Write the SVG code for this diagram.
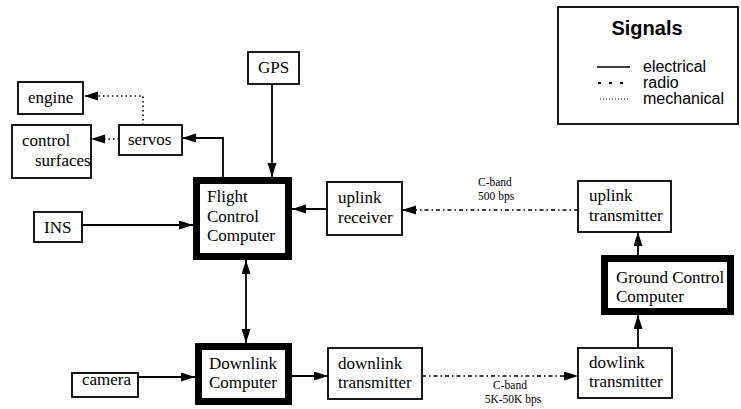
<svg xmlns="http://www.w3.org/2000/svg" width="741" height="409" viewBox="0 0 741 409">
  <style>
    .box { fill: #fff; stroke: #000; stroke-width: 1.8; }
    .heavy { fill: #fff; stroke: #000; stroke-width: 7; }
    .lbl { font-family: "Liberation Serif", "Times New Roman", serif; font-size: 17px; fill: #000; }
    .small { font-family: "Liberation Serif", "Times New Roman", serif; font-size: 11.5px; fill: #000; }
    .leg { font-family: "Liberation Sans", Arial, sans-serif; font-size: 16px; fill: #000; }
    .legtitle { font-family: "Liberation Sans", Arial, sans-serif; font-size: 20px; font-weight: bold; fill: #000; }
    .wire { fill: none; stroke: #000; stroke-width: 1.8; }
    .radio { fill: none; stroke: #000; stroke-width: 1.6; stroke-dasharray: 4 3 1.5 3; }
    .mech { fill: none; stroke: #000; stroke-width: 1.6; stroke-dasharray: 1.5 3; }
  </style>
  <defs>
    <marker id="arrow" markerUnits="userSpaceOnUse" markerWidth="15" markerHeight="10" refX="14" refY="4.5" orient="auto-start-reverse">
      <path d="M0,0 L14,4.5 L0,9 Z" fill="#000"/>
    </marker>
  </defs>

  <rect width="741" height="409" fill="#fff"/>

  <!-- connectors -->
  <g id="connectors">
    <!-- electrical -->
    <path class="wire" d="M272,84 V177" marker-end="url(#arrow)"/>
    <path class="wire" d="M223,177 V138 H182" marker-end="url(#arrow)"/>
    <path class="wire" d="M82,225 H193" marker-end="url(#arrow)"/>
    <path class="wire" d="M327,209 H292" marker-end="url(#arrow)"/>
    <path class="wire" d="M246,260 V343" marker-start="url(#arrow)" marker-end="url(#arrow)"/>
    <path class="wire" d="M138,377 H195" marker-end="url(#arrow)"/>
    <path class="wire" d="M292,376 H328" marker-end="url(#arrow)"/>
    <path class="wire" d="M638,255 V232" marker-end="url(#arrow)"/>
    <path class="wire" d="M638,348 V315" marker-end="url(#arrow)"/>
    <!-- mechanical -->
    <path class="mech" d="M143,125 V96 H84" marker-end="url(#arrow)"/>
    <path class="mech" d="M119,139 H91" marker-end="url(#arrow)"/>
    <!-- radio -->
    <path class="radio" d="M578,210 H402" marker-end="url(#arrow)"/>
    <path class="radio" d="M422,376 H578" marker-end="url(#arrow)"/>
    <text class="small" x="478" y="186">C-band</text>
    <text class="small" x="478" y="200">500 bps</text>
    <text class="small" x="510" y="389" text-anchor="middle">C-band</text>
    <text class="small" x="513" y="403" text-anchor="middle">5K-50K bps</text>
  </g>

  <!-- nodes -->
  <g id="engine">
    <rect class="box" x="18" y="82" width="65" height="32"/>
    <text class="lbl" x="28" y="103">engine</text>
  </g>
  <g id="control-surfaces">
    <rect class="box" x="12" y="125" width="79" height="53"/>
    <text class="lbl" x="22" y="146">control</text>
    <text class="lbl" x="35" y="166">surfaces</text>
  </g>
  <g id="servos">
    <rect class="box" x="119" y="125" width="63" height="30"/>
    <text class="lbl" x="128" y="145">servos</text>
  </g>
  <g id="gps">
    <rect class="box" x="248" y="52" width="51" height="32"/>
    <text class="lbl" x="258" y="73">GPS</text>
  </g>
  <g id="ins">
    <rect class="box" x="34" y="212" width="48" height="30"/>
    <text class="lbl" x="44" y="233">INS</text>
  </g>
  <g id="flight-control-computer">
    <rect class="heavy" x="196.5" y="180.5" width="92" height="76"/>
    <text class="lbl" x="207" y="202">Flight</text>
    <text class="lbl" x="207" y="222">Control</text>
    <text class="lbl" x="207" y="241">Computer</text>
  </g>
  <g id="uplink-receiver">
    <rect class="box" x="327" y="182" width="75" height="53"/>
    <text class="lbl" x="338" y="203">uplink</text>
    <text class="lbl" x="338" y="223">receiver</text>
  </g>
  <g id="uplink-transmitter">
    <rect class="box" x="578" y="181" width="93" height="51"/>
    <text class="lbl" x="589" y="201">uplink</text>
    <text class="lbl" x="589" y="221">transmitter</text>
  </g>
  <g id="ground-control-computer">
    <rect class="heavy" x="604.5" y="258.5" width="126" height="53"/>
    <text class="lbl" x="616" y="283">Ground Control</text>
    <text class="lbl" x="616" y="302">Computer</text>
  </g>
  <g id="camera">
    <rect class="box" x="72" y="373" width="66" height="24"/>
    <text class="lbl" x="82" y="385">camera</text>
  </g>
  <g id="downlink-computer">
    <rect class="heavy" x="198.5" y="346.5" width="90" height="55"/>
    <text class="lbl" x="209" y="369">Downlink</text>
    <text class="lbl" x="209" y="388">Computer</text>
  </g>
  <g id="downlink-transmitter">
    <rect class="box" x="328" y="348" width="94" height="51"/>
    <text class="lbl" x="338" y="369">downlink</text>
    <text class="lbl" x="338" y="388">transmitter</text>
  </g>
  <g id="dowlink-transmitter">
    <rect class="box" x="578" y="348" width="94" height="50"/>
    <text class="lbl" x="589" y="368">dowlink</text>
    <text class="lbl" x="589" y="387">transmitter</text>
  </g>

  <!-- legend -->
  <g id="legend">
    <rect class="box" x="558" y="7" width="180" height="117"/>
    <text class="legtitle" x="647" y="35" text-anchor="middle">Signals</text>
    <line x1="597" y1="67" x2="630" y2="67" stroke="#000" stroke-width="1.4"/>
    <line x1="598" y1="83" x2="630" y2="83" stroke="#000" stroke-width="1.8" stroke-dasharray="3 8"/>
    <line x1="600" y1="99" x2="628" y2="99" stroke="#000" stroke-width="1" stroke-dasharray="1 2"/>
    <text class="leg" x="643" y="72">electrical</text>
    <text class="leg" x="643" y="88">radio</text>
    <text class="leg" x="643" y="104">mechanical</text>
  </g>
</svg>
